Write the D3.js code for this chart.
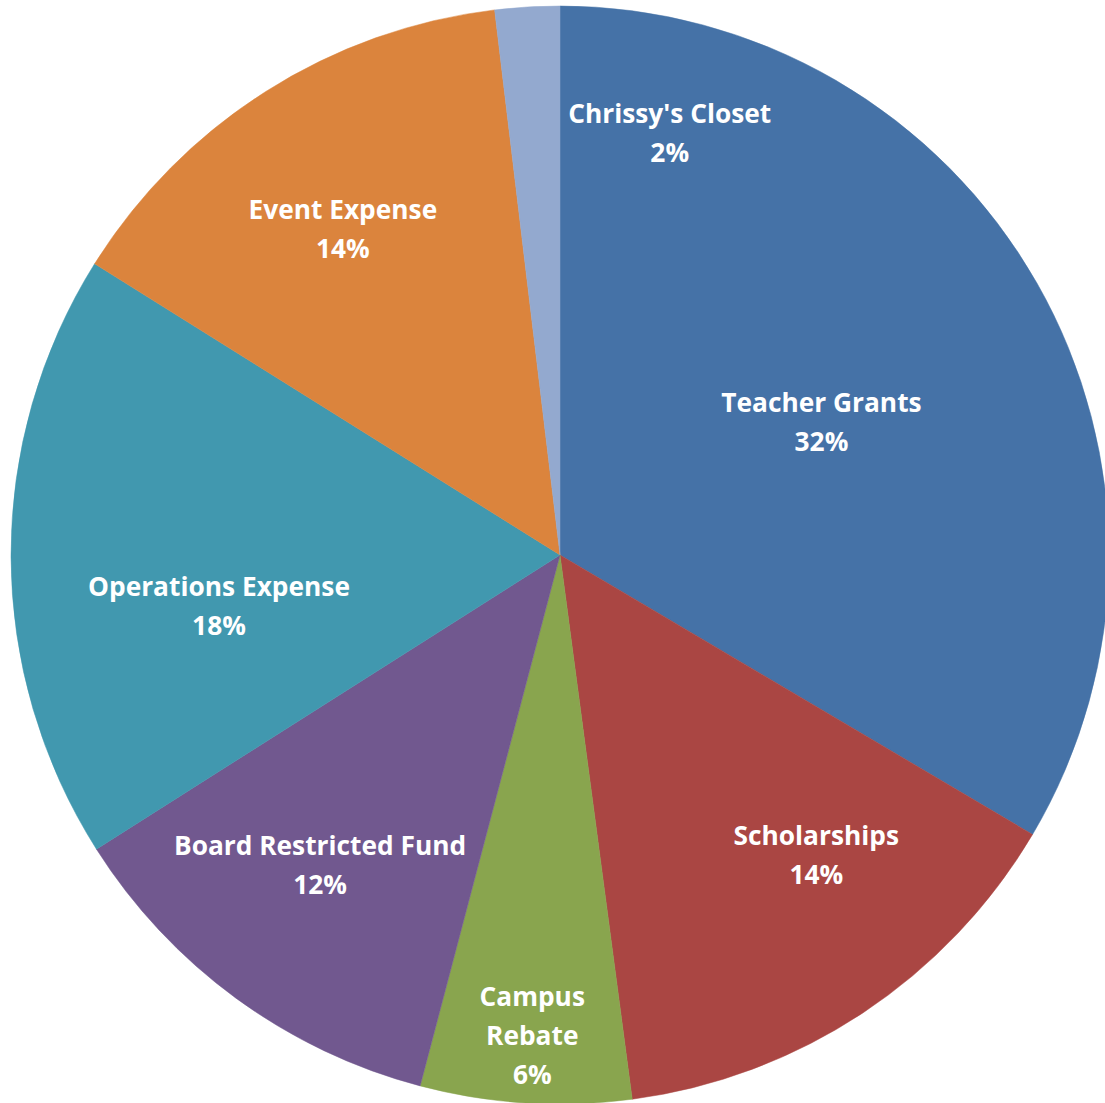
<!DOCTYPE html>
<html>
<head>
<meta charset="utf-8">
<script src="https://cdn.jsdelivr.net/npm/d3@7"></script>
<style>
  html, body { margin: 0; padding: 0; background: #fff; }
  svg { display: block; }
</style>
</head>
<body>
<svg id="chart" width="1105" height="1103"></svg>
<script>
const width = 1105;
const height = 1103;

// slices in drawing order, clockwise from 12 o'clock
const categories = ["Teacher Grants", "Scholarships", "Campus Rebate", "Board Restricted Fund",
    "Operations Expense", "Event Expense", "Chrissy's Closet"];
const shares = [33.5, 14.4, 6.2, 11.9, 17.9, 14.2, 1.9];
const percentLabels = ["32%", "14%", "6%", "12%", "18%", "14%", "2%"];
const colors = ["#4572A7", "#AA4643", "#89A54E", "#71588F", "#4198AF", "#DB843D", "#93A9CF"];

// label lines (the campus label wraps onto two lines)
const labelLines = [["Teacher Grants"], ["Scholarships"], ["Campus", "Rebate"], ["Board Restricted Fund"],
    ["Operations Expense"], ["Event Expense"], ["Chrissy's Closet"]];

// best-fit placement: [angle shift in degrees, radius fraction]
const labelPlace = [[2.8, 0.534], [-7.0, 0.719], [-0.3, 0.878], [1.5, 0.715],
    [-8.3, 0.628], [-1.3, 0.713], [18, 0.794]];

const cx = 560, cy = 555, radius = 549;

const svg = d3.select("#chart");
const g = svg.append("g").attr("transform", `translate(${cx},${cy})`);

const pie = d3.pie().sort(null).value(d => d.value);
const arc = d3.arc().innerRadius(0).outerRadius(radius);

const data = categories.map((c, i) => ({ name: c, value: shares[i], i }));
const arcs = pie(data);

g.selectAll("path")
    .data(arcs)
    .enter()
    .append("path")
    .attr("d", arc)
    .attr("fill", d => colors[d.data.i])
    .attr("stroke", d => colors[d.data.i])
    .attr("stroke-width", 0.5);

const lineH = 39;
const labels = g.selectAll("text")
    .data(arcs)
    .enter()
    .append("text")
    .attr("text-anchor", "middle")
    .attr("font-family", "'Open Sans', 'Noto Sans', sans-serif")
    .attr("font-weight", "bold")
    .attr("font-size", "26.3px")
    .attr("fill", "#fff")
    .attr("transform", d => {
        const p = labelPlace[d.data.i];
        const mid = (d.startAngle + d.endAngle) / 2 + p[0] * Math.PI / 180;
        const [x, y] = d3.pointRadial(mid, p[1] * radius);
        return `translate(${x},${y})`;
    });

labels.each(function(d) {
    const lines = labelLines[d.data.i].concat([percentLabels[d.data.i]]);
    const t = d3.select(this);
    const top = -(lines.length - 1) * lineH / 2;
    lines.forEach((s, k) => {
        t.append("tspan")
            .attr("x", 0)
            .attr("y", top + k * lineH)
            .attr("dy", "0.35em")
            .text(s);
    });
});
</script>
</body>
</html>
